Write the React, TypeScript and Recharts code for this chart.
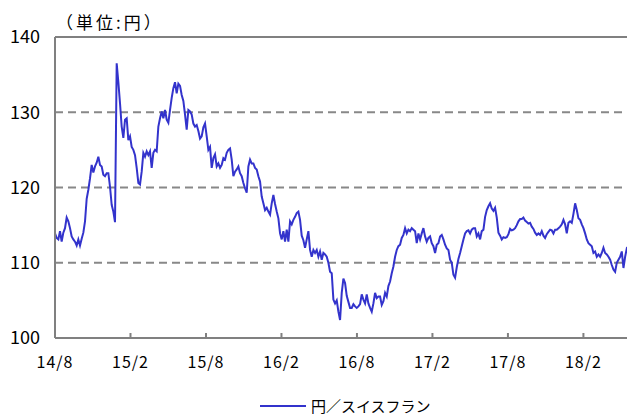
import { LineChart, Line, XAxis, YAxis, CartesianGrid, ReferenceLine, Legend } from 'recharts'

const FONT = '"Noto Sans CJK JP", "Noto Sans", sans-serif'

const tickLabels = ['14/8', '15/2', '15/8', '16/2', '16/8', '17/2', '17/8', '18/2']
// months since 2014/8 for each tick label
const tickMonths = [0, 6, 12, 18, 24, 30, 36, 42]
const yTicks = [100, 110, 120, 130, 140]

// CHF/JPY, one reading about every 4 days (0.1325 month)
const MONTHS_PER_POINT = 0.1325
const chfJpy = [
  113.9, 113.3, 113.1, 114.2, 112.8, 114.0, 114.6, 116.0, 115.5, 114.6,
  113.5, 113.1, 112.8, 112.3, 113.1, 112.3, 113.2, 114.0, 115.5, 118.5,
  119.7, 121.2, 123.0, 122.0, 122.8, 123.3, 124.1, 123.0, 122.8, 121.7,
  121.5, 121.9, 121.9, 120.1, 117.7, 116.8, 115.4, 136.5, 134.0, 131.2,
  128.1, 126.6,
  129.0, 129.2, 126.3, 126.8, 125.4, 125.0, 124.3, 122.6, 120.6, 120.4,
  122.1, 124.6, 124.1, 124.8, 124.3, 124.8, 122.6, 124.6, 125.0, 124.8,
  128.1, 129.2, 130.1, 129.2, 130.3, 129.0, 128.6, 130.3, 131.9, 133.2,
  134.0, 132.5, 133.8, 133.5, 132.3, 131.5, 129.7, 127.7, 130.3, 130.1,
  129.7, 128.5,
  128.1, 128.3, 127.5, 126.5, 126.8, 128.0, 128.5, 126.8, 125.0, 125.4,
  122.6, 123.9, 124.4, 122.8, 123.2, 122.6, 123.0, 123.9, 123.7, 124.6,
  125.0, 125.2, 123.7, 121.5, 122.1, 122.4, 122.8, 121.9, 121.5, 120.6,
  119.9, 119.3, 122.8, 123.7, 123.2, 123.2, 122.6, 122.4, 121.5, 120.8,
  118.8, 117.9,
  117.0, 117.3, 116.8, 116.4, 117.9, 119.0, 117.8, 116.8, 115.9, 113.9,
  113.1, 114.2, 112.8, 114.4, 112.8, 115.5, 115.1, 115.7, 116.1, 116.6,
  116.8, 115.7, 113.6, 113.0, 112.0, 113.1, 114.2, 111.7, 110.8, 111.7,
  111.3, 111.7, 110.8, 111.5, 110.4, 111.3, 111.1, 110.8, 110.0, 108.8,
  108.6, 105.1,
  104.6, 105.0, 103.5, 102.4, 106.0, 107.9, 107.3, 105.6, 104.8, 104.0,
  104.0, 104.5, 104.2, 104.0, 104.2, 104.5, 105.8, 105.1, 104.6, 105.8,
  104.6, 104.0, 103.5, 104.6, 106.0, 105.3, 105.5, 105.5, 104.4, 104.9,
  106.0, 105.5, 106.9, 107.5, 108.6, 109.5, 110.8, 111.7, 112.2, 112.4,
  113.3, 113.7,
  114.6, 113.9, 114.4, 114.2, 114.6, 114.4, 114.2, 112.6, 113.9, 113.1,
  113.9, 114.6, 113.5, 112.8, 113.3, 113.5, 112.6, 112.2, 111.3, 112.4,
  112.6, 113.5, 113.7, 113.1, 112.4, 111.9, 111.7, 110.4, 110.0, 108.4,
  108.0, 109.4, 110.5, 111.3, 112.2, 113.1, 113.9, 114.2, 114.3, 113.9,
  114.4, 114.6,
  114.6, 113.5, 113.9, 113.1, 114.2, 114.4, 116.1, 117.0, 117.5, 117.9,
  117.2, 116.9, 117.3, 116.0, 114.0, 113.6, 113.1, 113.4, 113.3, 113.4,
  113.8, 114.5, 114.3, 114.4, 114.6, 115.0, 115.5, 115.8, 115.8, 116.0,
  115.6, 115.4, 115.2, 115.3, 114.8, 114.5, 114.0, 113.7, 113.9, 113.7,
  114.2, 113.6, 113.3, 113.8, 114.1, 114.4, 114.3,
  113.9, 114.4, 114.4, 114.6, 114.8, 115.1, 115.7, 115.1, 113.9, 115.3,
  115.5, 115.3, 116.5, 117.9, 117.0, 115.9, 115.7, 115.1, 114.6, 113.9,
  113.1, 112.6, 112.4, 112.2, 111.3, 111.5, 110.8, 111.1, 110.8, 111.3,
  112.0, 111.3, 111.1, 110.8, 110.4, 109.7, 109.1, 108.8, 110.0, 110.4,
  110.8, 111.5, 109.3, 110.8, 111.9, 111.7, 111.1, 110.8, 110.8,
]

const data = chfJpy.map((v, i) => ({ t: i * MONTHS_PER_POINT, rate: v }))

function XTick({ x, y, payload }: any) {
  const label = tickLabels[tickMonths.indexOf(payload.value)]
  return (
    <g>
      <line x1={x} y1={y} x2={x} y2={y - 5} stroke="#808080" strokeWidth={2} />
      <text x={x} y={y + 30} textAnchor="middle" fontSize={16} style={{ letterSpacing: '1px' }} fill="#000" fontFamily={FONT}>
        {label}
      </text>
    </g>
  )
}

function LegendBox({ payload }: any) {
  const item = payload && payload[0]
  return (
    <div style={{ display: 'flex', alignItems: 'center', fontFamily: FONT, fontSize: 15, lineHeight: '18px', color: '#000' }}>
      <svg width={46} height={4}>
        <line x1={0} y1={2} x2={46} y2={2} stroke="#3333CC" strokeWidth={2} />
      </svg>
      <span style={{ marginLeft: 5 }}>{item ? item.value : ''}</span>
    </div>
  )
}

export default function App() {
  return (
    <div style={{ width: 627, height: 408 }}>
      <LineChart width={627} height={408} data={data} margin={{ top: 29, right: 0, bottom: 0, left: 0 }}>
        <CartesianGrid vertical={false} stroke="#888" strokeWidth={2} strokeDasharray="8 5" />
        <XAxis
          type="number"
          dataKey="t"
          domain={[0, 46.1]}
          ticks={tickMonths}
          interval={0}
          height={78}
          tickSize={0}
          tickMargin={0}
          tickLine={false}
          axisLine={{ stroke: '#808080', strokeWidth: 2 }}
          tick={<XTick />}
          allowDataOverflow
        />
        <YAxis
          type="number"
          domain={[100, 140]}
          ticks={yTicks}
          interval={0}
          width={47}
          tickSize={0}
          tickMargin={15}
          tickLine={false}
          axisLine={{ stroke: '#808080', strokeWidth: 2 }}
          tick={{ fontSize: 18, fill: '#000', fontFamily: FONT }}
        />
        <ReferenceLine y={140} stroke="#808080" strokeWidth={2} />
        <Line
          type="linear"
          dataKey="rate"
          name="円／スイスフラン"
          stroke="#3333CC"
          strokeWidth={2}
          dot={false}
          isAnimationActive={false}
        />
        <Legend
          layout="horizontal"
          verticalAlign="middle"
          align="center"
          wrapperStyle={{ top: 389, left: 252, width: 220, height: 18 }}
          content={<LegendBox />}
        />
        <text x={48} y={21} fontSize={17} style={{ letterSpacing: '3px' }} fill="#000" fontFamily={FONT}>
          （単位:円）
        </text>
      </LineChart>
    </div>
  )
}
